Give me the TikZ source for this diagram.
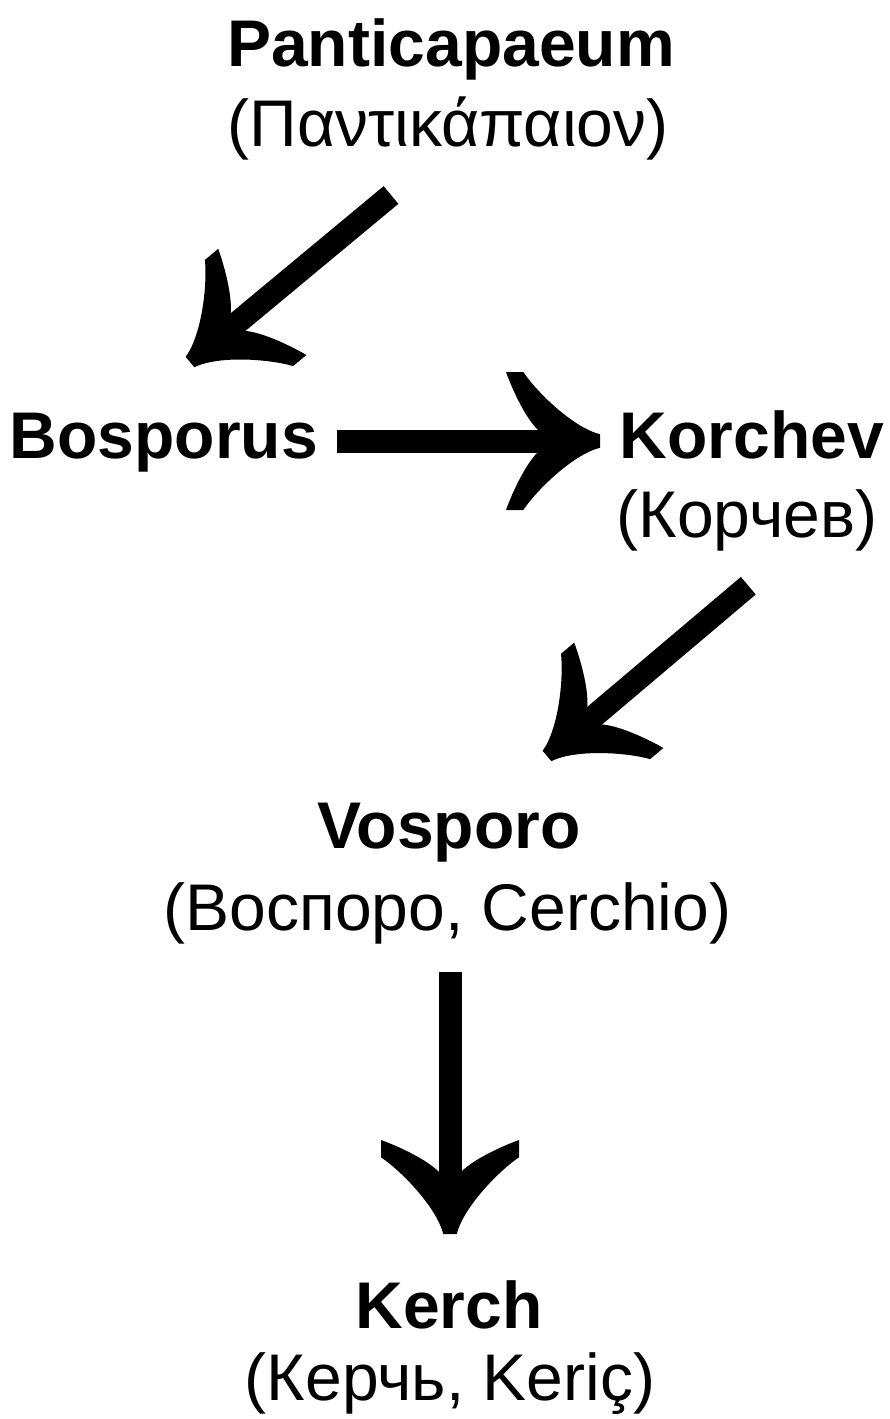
\documentclass[tikz,border=0pt]{standalone}
\usepackage{fontspec}
\setmainfont{Liberation Sans}
\pgfdeclarearrow{
  name = Horn,
  setup code = {
    \pgfarrowssettipend{0pt}
    \pgfarrowssetlineend{-61pt}
    \pgfarrowssetbackend{-94pt}
    \pgfarrowssetvisualbackend{-61pt}
    \pgfarrowshullpoint{0pt}{6.7pt}
    \pgfarrowshullpoint{0pt}{-6.7pt}
    \pgfarrowshullpoint{-94pt}{69pt}
    \pgfarrowshullpoint{-94pt}{-69pt}
  },
  drawing code = {
    \pgfpathmoveto{\pgfqpoint{0pt}{6.7pt}}
    \pgfpathcurveto{\pgfqpoint{-28pt}{14pt}}{\pgfqpoint{-64pt}{50pt}}{\pgfqpoint{-76.7pt}{69pt}}
    \pgfpathlineto{\pgfqpoint{-94pt}{69pt}}
    \pgfpathcurveto{\pgfqpoint{-89pt}{55pt}}{\pgfqpoint{-76pt}{25pt}}{\pgfqpoint{-62.3pt}{11.3pt}}
    \pgfpathlineto{\pgfqpoint{-62.3pt}{-11.3pt}}
    \pgfpathcurveto{\pgfqpoint{-76pt}{-25pt}}{\pgfqpoint{-89pt}{-55pt}}{\pgfqpoint{-94pt}{-69pt}}
    \pgfpathlineto{\pgfqpoint{-76.7pt}{-69pt}}
    \pgfpathcurveto{\pgfqpoint{-64pt}{-50pt}}{\pgfqpoint{-28pt}{-14pt}}{\pgfqpoint{0pt}{-6.7pt}}
    \pgfpathclose
    \pgfusepathqfill
  }
}
\tikzset{
  bold/.style={inner sep=0pt, anchor=base, font=\fontsize{66}{79}\selectfont\bfseries},
  sub/.style={inner sep=0pt, anchor=base, font=\fontsize{66}{79}\selectfont},
  bigarrow/.style={line width=23pt, -{Horn}, black}
}
\begin{document}
\begin{tikzpicture}[x=1pt,y=-1pt]
\fill[white] (0,0) rectangle (890,1419);
\useasboundingbox (0,0) rectangle (890,1419);
% texts
\node[bold] (pan) at (451,66) {Panticapaeum};
\node[sub] (pang) at (448,146) {(Παντικάπαιον)};
\node[bold] (bos) at (164,458) {Bosporus};
\node[bold] (kor) at (752,458) {Korchev};
\node[sub] (korc) at (747,537) {(Корчев)};
\node[bold] (vos) at (449,848) {Vosporo};
\node[sub] (vosc) at (447.5,930) {(Воспоро, Cerchio)};
\node[bold] (ker) at (449,1328) {Kerch};
\node[sub] (kerc) at (450,1400) {(Керчь, Keriç)};
% arrow ends
\coordinate (a1s) at (391,195);
\coordinate (a1e) at (190,362);
\coordinate (a2s) at (337,441);
\coordinate (a2e) at (600,441);
\coordinate (a3s) at (748.3,585.7);
\coordinate (a3e) at (547,756);
\coordinate (a4s) at (450,972);
\coordinate (a4e) at (450,1234);
\draw[bigarrow] (a1s) -- (a1e);
\draw[bigarrow] (a2s) -- (a2e);
\draw[bigarrow] (a3s) -- (a3e);
\draw[bigarrow] (a4s) -- (a4e);
\end{tikzpicture}
\end{document}
